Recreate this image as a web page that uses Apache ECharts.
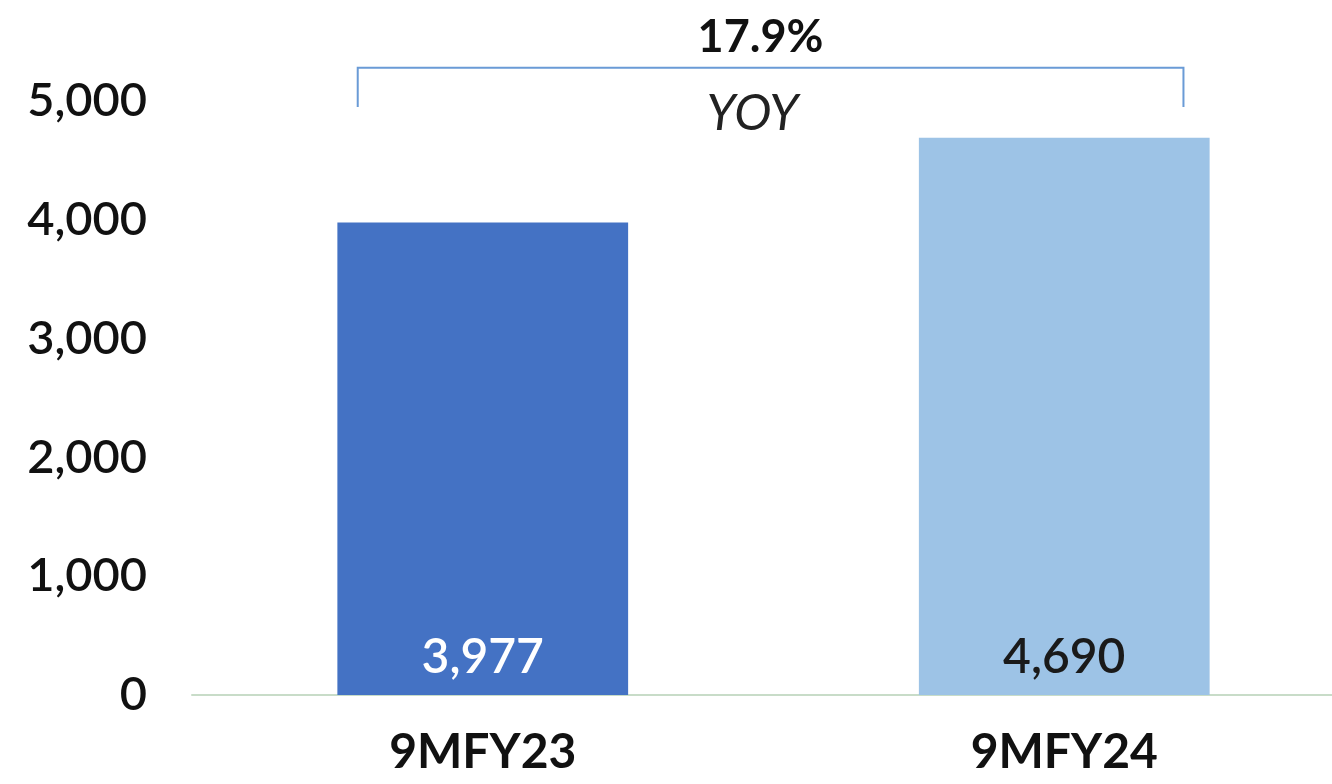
<!DOCTYPE html>
<html><head><meta charset="utf-8">
<script src="https://cdn.jsdelivr.net/npm/echarts@6/dist/echarts.min.js"></script>
<style>html,body{margin:0;padding:0;background:#fff;overflow:hidden;width:1332px;height:784px}#c{width:1355px;height:784px}</style>
</head><body><div id="c"></div>
<script>
const categories = ['9MFY23', '9MFY24'];
const values = [3977, 4690];
const barColors = ['#4472C4', '#9DC3E6'];
const labelColors = ['#ffffff', '#1a1a1a'];
const yTicks = [0, 1000, 2000, 3000, 4000, 5000];
const growthText = '17.9%';
const growthSub = 'YOY';
const bracketTopValue = 5280;
const bracketEndValue = 4950;

const chart = echarts.init(document.getElementById('c'));
const FONT = 'Lato';
chart.setOption({
  animation: false,
  grid: { left: 192, right: 0, top: 101, bottom: 89, containLabel: false },
  xAxis: {
    type: 'category', data: categories,
    axisLine: { show: true, lineStyle: { color: '#c8dcc8', width: 2 } },
    axisTick: { show: false },
    axisLabel: { fontFamily: FONT, fontSize: 48, fontWeight: 'bold', color: '#111', margin: 34 }
  },
  yAxis: {
    type: 'value', min: yTicks[0], max: yTicks[yTicks.length - 1], interval: 1000,
    splitLine: { show: false }, axisLine: { show: false }, axisTick: { show: false },
    axisLabel: { fontFamily: FONT, fontSize: 47, fontWeight: 600, color: '#111', margin: 45,
      formatter: v => v.toLocaleString('en-US') }
  },
  series: [{
    type: 'bar', barWidth: '50%',
    data: values.map((v, i) => ({ value: v, itemStyle: { color: barColors[i] },
      label: { color: labelColors[i] } })),
    label: { show: true, position: 'insideBottom', distance: 13, fontFamily: FONT,
      fontSize: 48, fontWeight: 600, formatter: p => p.value.toLocaleString('en-US') }
  }]
});

function drawBracket() {
  const pL = chart.convertToPixel({ gridIndex: 0 }, [0, bracketTopValue]);
  const pR = chart.convertToPixel({ gridIndex: 0 }, [1, bracketTopValue]);
  const pE = chart.convertToPixel({ gridIndex: 0 }, [0, bracketEndValue]);
  const bw = (pR[0] - pL[0]) / 2; // bar width in px
  const x1 = pL[0] - bw * 0.43;
  const x2 = pR[0] + bw * 0.41;
  const yT = pL[1], yB = pE[1];
  const mid = (pL[0] + pR[0]) / 2 - 13;
  chart.setOption({
    graphic: [
      { type: 'polyline', shape: { points: [[x1, yB], [x1, yT], [x2, yT], [x2, yB]] },
        style: { stroke: '#6a9bd6', lineWidth: 2, fill: null } },
      { type: 'text', x: mid, y: yT - 30, style: { text: growthText,
        font: 'bold 45px Lato', fill: '#111', align: 'center', verticalAlign: 'middle' } },
      { type: 'text', x: mid - 8, y: yT + 46, style: { text: growthSub,
        font: 'italic 400 50px Lato', fill: '#222', align: 'center', verticalAlign: 'middle' } }
    ]
  });
}
drawBracket();
</script></body></html>
